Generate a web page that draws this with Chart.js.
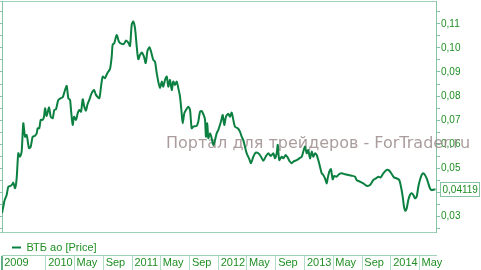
<!DOCTYPE html>
<html><head><meta charset="utf-8">
<script src="https://cdn.jsdelivr.net/npm/chart.js@4/dist/chart.umd.min.js"></script>
<style>html,body{margin:0;padding:0;background:#fff;}#wrap{width:481px;height:270px;}</style>
</head><body><div id="wrap"><canvas id="c" width="481" height="270"></canvas></div>
<script>
const seriesName = 'ВТБ ао [Price]';
const times = [
2009.490,2009.505,2009.521,2009.544,2009.563,2009.583,2009.602,2009.621,2009.641,2009.660,
2009.679,2009.699,2009.718,2009.737,2009.757,2009.776,2009.803,2009.823,2009.846,2009.869,
2009.892,2009.904,2009.922,2009.939,2009.962,2009.977,2009.989,2010.008,2010.035,2010.055,
2010.078,2010.096,2010.116,2010.143,2010.171,2010.194,2010.221,2010.240,2010.259,2010.279,
2010.290,2010.310,2010.325,2010.348,2010.368,2010.386,2010.406,2010.426,2010.444,2010.464,
2010.479,2010.502,2010.530,2010.557,2010.580,2010.618,2010.638,2010.658,2010.684,2010.711,
2010.742,2010.762,2010.773,2010.792,2010.820,2010.846,2010.878,2010.904,2010.928,2010.954,
2010.974,2010.994,2011.012,2011.032,2011.052,2011.070,2011.090,2011.110,2011.136,2011.156,
2011.177,2011.200,2011.218,2011.244,2011.264,2011.284,2011.302,2011.322,2011.342,2011.360,
2011.380,2011.400,2011.418,2011.438,2011.458,2011.476,2011.496,2011.516,2011.534,2011.554,
2011.573,2011.585,2011.604,2011.623,2011.650,2011.670,2011.689,2011.708,2011.747,2011.766,
2011.786,2011.805,2011.829,2011.844,2011.855,2011.870,2011.882,2011.902,2011.921,2011.940,
2011.960,2011.979,2011.998,2012.029,2012.049,2012.067,2012.087,2012.114,2012.133,2012.153,
2012.172,2012.191,2012.223,2012.249,2012.269,2012.288,2012.307,2012.327,2012.354,2012.377,
2012.404,2012.431,2012.462,2012.493,2012.520,2012.547,2012.578,2012.605,2012.636,2012.655,
2012.675,2012.687,2012.705,2012.733,2012.751,2012.779,2012.802,2012.821,2012.849,2012.867,
2012.907,2012.937,2012.965,2012.983,2013.003,2013.023,2013.041,2013.061,2013.081,2013.099,
2013.119,2013.139,2013.157,2013.177,2013.197,2013.215,2013.235,2013.255,2013.266,2013.285,
2013.304,2013.324,2013.343,2013.370,2013.401,2013.428,2013.467,2013.505,2013.544,2013.583,
2013.602,2013.641,2013.679,2013.718,2013.757,2013.795,2013.826,2013.853,2013.881,2013.911,
2013.950,2013.980,2014.008,2014.035,2014.066,2014.096,2014.116,2014.136,2014.151,2014.166,
2014.182,2014.201,2014.220,2014.240,2014.259,2014.278,2014.298,2014.317,2014.336,2014.356,
2014.375,2014.394,2014.414,2014.433,2014.452,2014.472,2014.499,2014.516
];
const prices = [
0.0314,0.0340,0.0368,0.0389,0.0423,0.0426,0.0430,0.0440,0.0417,0.0458,
0.0562,0.0548,0.0569,0.0687,0.0631,0.0638,0.0583,0.0590,0.0631,0.0634,
0.0645,0.0666,0.0666,0.0701,0.0701,0.0714,0.0749,0.0717,0.0753,0.0714,
0.0708,0.0742,0.0745,0.0784,0.0791,0.0795,0.0825,0.0842,0.0791,0.0784,
0.0742,0.0680,0.0714,0.0701,0.0729,0.0742,0.0735,0.0787,0.0756,0.0739,
0.0763,0.0784,0.0812,0.0825,0.0805,0.0791,0.0839,0.0881,0.0874,0.0895,
0.0912,0.0964,0.1013,0.1020,0.1054,0.1026,0.1017,0.1017,0.1031,0.1022,
0.1008,0.1096,0.1110,0.1082,0.1006,0.0953,0.0971,0.0981,0.0964,0.0937,
0.0988,0.1003,0.0985,0.0950,0.0943,0.0895,0.0860,0.0833,0.0860,0.0839,
0.0867,0.0881,0.0839,0.0867,0.0825,0.0860,0.0846,0.0860,0.0833,0.0798,
0.0729,0.0687,0.0729,0.0742,0.0756,0.0742,0.0666,0.0673,0.0676,0.0694,
0.0735,0.0738,0.0721,0.0701,0.0631,0.0687,0.0625,0.0645,0.0625,0.0597,
0.0617,0.0645,0.0659,0.0694,0.0721,0.0680,0.0714,0.0726,0.0714,0.0731,
0.0701,0.0673,0.0666,0.0652,0.0631,0.0617,0.0590,0.0562,0.0541,0.0521,
0.0548,0.0565,0.0562,0.0548,0.0531,0.0548,0.0562,0.0551,0.0562,0.0541,
0.0562,0.0597,0.0534,0.0548,0.0541,0.0555,0.0545,0.0531,0.0521,0.0527,
0.0534,0.0541,0.0548,0.0569,0.0590,0.0562,0.0576,0.0541,0.0569,0.0548,
0.0562,0.0555,0.0534,0.0506,0.0479,0.0472,0.0458,0.0437,0.0458,0.0486,
0.0496,0.0454,0.0468,0.0465,0.0476,0.0479,0.0475,0.0472,0.0469,0.0465,
0.0451,0.0444,0.0437,0.0427,0.0430,0.0451,0.0458,0.0465,0.0462,0.0479,
0.0493,0.0490,0.0476,0.0462,0.0458,0.0451,0.0423,0.0382,0.0340,0.0323,
0.0333,0.0368,0.0389,0.0396,0.0389,0.0375,0.0382,0.0423,0.0451,0.0472,
0.0479,0.0472,0.0458,0.0437,0.0417,0.0409,0.0412,0.04119
];
const lastPriceLabel = '0,04119';
const xStart = 2009.49, xEnd = 2014.522;
const xTickValues = [2009.49, 2010, 2010.329, 2010.666, 2011, 2011.329, 2011.666, 2012, 2012.329, 2012.666, 2013, 2013.329, 2013.666, 2014, 2014.329];
const xTickLabels = ['2009','2010','May','Sep','2011','May','Sep','2012','May','Sep','2013','May','Sep','2014','May'];
const yMin = 0.0235, yMax = 0.1195;
const yTickValues = [0.025,0.03,0.035,0.04,0.045,0.05,0.055,0.06,0.065,0.07,0.075,0.08,0.085,0.09,0.095,0.1,0.105,0.11,0.115];
const yTickLabels = ['','0,03','','0,04','','0,05','','0,06','','0,07','','0,08','','0,09','','0,10','','0,11',''];
const watermark = 'Портал для трейдеров - ForTrader.ru';

const GREEN_TEXT = '#1f8f24';
const LINE = '#0b8040';
const BORDER = '#9fd0b8';
const AXIS = '#86c3a3';
const FONT = "'Liberation Sans', Arial, sans-serif";

const decoPlugin = {
  id: 'deco',
  beforeDraw(chart) {
    const {ctx, chartArea: a} = chart;
    ctx.save();
    ctx.strokeStyle = BORDER;
    ctx.lineWidth = 1;
    ctx.beginPath();
    ctx.moveTo(0, a.top + 0.5); ctx.lineTo(a.right, a.top + 0.5);
    ctx.moveTo(0, a.bottom + 0.5); ctx.lineTo(a.right, a.bottom + 0.5);
    ctx.stroke();
    ctx.restore();
  },
  beforeDatasetsDraw(chart) {
    const {ctx} = chart;
    ctx.save();
    ctx.font = "16px 'DejaVu Sans', sans-serif";
    ctx.fillStyle = 'rgba(150,132,132,0.8)';
    ctx.textBaseline = 'middle';
    ctx.textAlign = 'left';
    ctx.fillText(watermark, 166, 144);
    ctx.restore();
  },
  afterDraw(chart) {
    const {ctx} = chart;
    const y = chart.scales.y.getPixelForValue(prices[prices.length - 1]);
    ctx.save();
    ctx.fillStyle = '#fff';
    ctx.strokeStyle = AXIS;
    ctx.lineWidth = 1;
    const bx = 440.5, by = Math.round(y - 7) + 0.5, bw = 39, bh = 14;
    ctx.fillRect(bx, by, bw, bh);
    ctx.strokeRect(bx, by, bw, bh);
    ctx.font = '10px ' + FONT;
    ctx.fillStyle = GREEN_TEXT;
    ctx.textBaseline = 'middle';
    ctx.fillText(lastPriceLabel, bx + 2, by + bh / 2 + 0.5);
    ctx.restore();
  }
};

new Chart(document.getElementById('c'), {
  type: 'line',
  data: {
    datasets: [{
      label: seriesName,
      data: times.map((t, i) => ({x: t, y: prices[i]})),
      borderColor: LINE,
      backgroundColor: LINE,
      borderWidth: 2,
      pointRadius: 0,
      tension: 0.25,
      fill: false
    }]
  },
  options: {
    responsive: false,
    animation: false,
    layout: {padding: {top: 1, left: 0, right: 0, bottom: 0}},
    plugins: {
      tooltip: {enabled: false},
      legend: {
        display: true,
        position: 'bottom',
        align: 'start',
        fullSize: false,
        maxHeight: 23,
        labels: {
          usePointStyle: true,
          pointStyle: 'line',
          pointStyleWidth: 9,
          padding: 10,
          color: GREEN_TEXT,
          font: {size: 11, family: FONT}
        }
      }
    },
    scales: {
      x: {
        type: 'linear',
        position: 'bottom',
        weight: 2000,
        min: xStart, max: xEnd,
        bounds: 'data',
        afterBuildTicks: (axis) => { axis.ticks = xTickValues.map(v => ({value: v})); },
        afterFit: (s) => { s.height = 15; s.paddingLeft = 0; s.paddingRight = 0; },
        border: {display: true, color: BORDER, width: 1},
        grid: {
          drawOnChartArea: false,
          drawTicks: true,
          tickLength: 15,
          color: (c) => c.index === 0 ? '#5fae87' : '#b3dcc7',
          lineWidth: (c) => c.index === 0 ? 2 : 1
        },
        ticks: {
          autoSkip: false,
          maxRotation: 0, minRotation: 0,
          align: 'start',
          padding: -13.6,
          color: GREEN_TEXT,
          font: {size: 11, family: FONT},
          callback: (v, i) => '\u2009' + xTickLabels[i]
        }
      },
      y: {
        type: 'linear',
        position: 'right',
        min: yMin, max: yMax,
        bounds: 'data',
        afterBuildTicks: (axis) => { axis.ticks = yTickValues.map(v => ({value: v})); },
        afterFit: (s) => { s.width = 45; s.paddingTop = 0; s.paddingBottom = 0; },
        border: {display: true, color: AXIS, width: 1},
        grid: {drawOnChartArea: false, drawTicks: true, tickLength: 4, color: AXIS},
        ticks: {
          autoSkip: false,
          padding: 1,
          color: GREEN_TEXT,
          font: {size: 10, family: FONT},
          callback: (v, i) => yTickLabels[i]
        }
      },
      y2: {
        type: 'linear',
        position: 'left',
        min: yMin, max: yMax,
        bounds: 'data',
        afterBuildTicks: (axis) => { axis.ticks = yTickValues.map(v => ({value: v})); },
        afterFit: (s) => { s.width = 2; s.paddingTop = 0; s.paddingBottom = 0; },
        border: {display: true, color: AXIS, width: 1},
        grid: {drawOnChartArea: false, drawTicks: true, tickLength: 2, color: AXIS},
        ticks: {display: false}
      }
    }
  },
  plugins: [decoPlugin]
});
</script></body></html>
